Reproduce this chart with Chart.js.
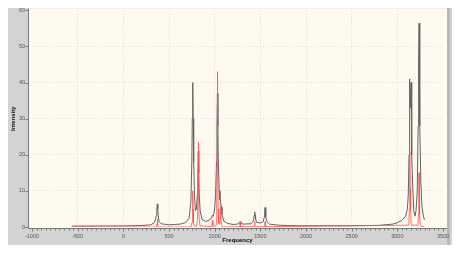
<!DOCTYPE html>
<html>
<head>
<meta charset="utf-8">
<script src="https://cdn.jsdelivr.net/npm/chart.js@4/dist/chart.umd.min.js"></script>
<style>
  html, body { margin: 0; padding: 0; background: #fff; }
  #c { display: block; }
</style>
</head>
<body>
<canvas id="c" width="463" height="256"></canvas>
<script>
// spectrum values (frequency / intensity pairs)
const blackFreq = [-565, 0, 200, 300, 340, 352, 362, 367, 372, 377, 382, 392, 412, 500, 620, 680, 720, 740, 750, 755, 760, 765, 770, 780, 790, 800, 811, 816, 821, 826, 831, 841, 861, 900, 950, 965, 970, 975, 980, 990, 1000, 1010, 1020, 1025, 1030, 1035, 1040, 1050, 1058, 1062, 1066, 1072, 1080, 1100, 1140, 1200, 1250, 1268, 1278, 1288, 1310, 1400, 1418, 1428, 1433, 1438, 1443, 1448, 1458, 1500, 1532, 1542, 1547, 1552, 1557, 1562, 1572, 1600, 1700, 1900, 2500, 2800, 2950, 3000, 3050, 3090, 3110, 3120, 3128, 3133, 3136, 3140, 3143, 3150, 3155, 3160, 3170, 3180, 3193, 3205, 3218, 3228, 3233, 3238, 3243, 3248, 3258, 3270, 3285, 3297];
const blackInt  = [0.25, 0.3, 0.4, 0.6, 1.2, 2, 3.2, 5, 6.4, 5, 3.2, 1.5, 0.9, 0.6, 0.8, 1.2, 2.4, 7, 18, 30, 40, 30, 18, 8, 4.5, 5, 9, 15, 21, 15, 9, 4.5, 2.2, 1.5, 2, 2.6, 3, 3.2, 3, 3.5, 5, 9, 18, 28, 37, 28, 18, 10, 7.5, 7.5, 7.5, 5.5, 3.5, 1.6, 1, 0.7, 0.8, 1.1, 1.4, 1.1, 0.8, 0.9, 1.4, 2.2, 3.3, 4.2, 3.3, 2.2, 1.3, 1.1, 1.5, 2.7, 4.2, 5.4, 4.2, 2.7, 1.5, 0.8, 0.5, 0.35, 0.35, 0.45, 0.8, 1.2, 1.8, 3, 5, 9, 20, 32, 41, 33, 35, 40, 32, 20, 10, 4.5, 3, 4.5, 10, 28, 45, 56.4, 45, 28, 12, 5.5, 3, 2];

const redFreq = [-565, 355, 365, 369, 372, 375, 379, 390, 740, 752, 757, 760, 763, 768, 780, 805, 813, 818, 821, 824, 829, 840, 965, 970, 975, 980, 985, 1015, 1022, 1027, 1030, 1033, 1038, 1045, 1058, 1063, 1066, 1069, 1074, 1085, 1270, 1275, 1278, 1281, 1286, 1430, 1435, 1438, 1441, 1446, 1544, 1549, 1552, 1555, 1560, 3125, 3132, 3135, 3138, 3141, 3144, 3152, 3225, 3232, 3235, 3238, 3241, 3244, 3252, 3297];
const redInt  = [0, 0, 0.3, 1, 2.2, 1, 0.3, 0, 0, 1.2, 5, 10, 5, 1.2, 0.2, 0.3, 2.8, 12, 23.5, 12, 2.8, 0.3, 0.1, 0.5, 1.8, 0.5, 0.1, 0.5, 5, 21, 43, 21, 5, 1, 0.8, 3, 6, 3, 0.8, 0, 0.1, 0.7, 1.5, 0.7, 0.1, 0.1, 0.7, 1.5, 0.7, 0.1, 0.1, 0.7, 1.5, 0.7, 0.1, 0.5, 5, 10.5, 21, 10.5, 5, 0.5, 0.5, 3.6, 7.5, 15, 7.5, 3.6, 0.4, 0];

const xMin = -1000, xMax = 3500, xStep = 50, xMajor = 500;
const yMin = 0, yMax = 60, yStep = 10;

const FONT = "'Liberation Sans', Arial, sans-serif";

// panneau gris + fond crème + axes dessinés à la main
const panelPlugin = {
  id: 'panel',
  beforeDraw(chart) {
    const { ctx, chartArea: a } = chart;
    ctx.save();
    ctx.fillStyle = '#fff';
    ctx.fillRect(0, 0, chart.width, chart.height);
    ctx.fillStyle = '#d3d3d3';
    ctx.fillRect(8, 8, 444, 237);
    ctx.fillStyle = '#fffaf0';
    ctx.fillRect(a.left - 4, a.top - 2, a.right - a.left + 8, a.bottom - a.top + 3);
    ctx.fillStyle = '#b8b8b8';
    ctx.fillRect(a.right + 4, 8, 3, 237);
    ctx.restore();
  },
  afterDraw(chart) {
    const { ctx, chartArea: a, scales: { x, y } } = chart;
    const axL = a.left - 3.5, axB = a.bottom + 1.5;
    ctx.save();
    ctx.strokeStyle = '#7a7a7a';
    ctx.lineWidth = 1;
    ctx.beginPath();
    ctx.moveTo(axL, a.top - 2); ctx.lineTo(axL, axB);
    ctx.lineTo(a.right + 4, axB);
    for (let v = yMin; v <= yMax; v += yStep) {
      const py = Math.round(y.getPixelForValue(v)) + 0.5;
      ctx.moveTo(axL - 3, py); ctx.lineTo(axL, py);
    }
    for (let v = xMin; v <= xMax; v += xStep) {
      const px = Math.round(x.getPixelForValue(v)) + 0.5;
      ctx.moveTo(px, axB); ctx.lineTo(px, axB + (v % xMajor === 0 ? 3 : 2));
    }
    ctx.stroke();
    ctx.restore();
  }
};

const toPts = (fs, is) => fs.map((f, i) => ({ x: f, y: is[i] }));

new Chart(document.getElementById('c'), {
  type: 'line',
  plugins: [panelPlugin],
  data: {
    datasets: [
      { label: 'red',   data: toPts(redFreq, redInt),     borderColor: 'rgba(255,80,80,0.8)', borderWidth: 1, pointRadius: 0, tension: 0 },
      { label: 'black', data: toPts(blackFreq, blackInt), borderColor: '#636363',             borderWidth: 1, pointRadius: 0, tension: 0 },
    ]
  },
  options: {
    responsive: false,
    animation: false,
    events: [],
    layout: { padding: { left: 8, top: 10, right: 20, bottom: 11 } },
    plugins: { legend: { display: false }, tooltip: { enabled: false } },
    scales: {
      x: {
        type: 'linear', min: xMin, max: xMax,
        afterFit(s) { s.height = 18; },
        border: { display: false, dash: [1, 2] },
        grid: {
          drawTicks: false,
          color: c => (c.tick && c.tick.value % xMajor === 0 && c.tick.value !== xMin && c.tick.value !== xMax) ? '#dedad2' : 'transparent'
        },
        ticks: {
          stepSize: xStep, autoSkip: false, maxRotation: 0, padding: 6,
          color: '#555', font: { family: FONT, size: 5.5 },
          callback: v => (v % xMajor === 0 ? String(v) : '')
        },
        title: { display: true, text: 'Frequency', color: '#111', font: { family: FONT, size: 6, weight: 'bold' }, padding: { top: 0, bottom: 1 } }
      },
      y: {
        min: yMin, max: yMax,
        afterFit(s) { s.width = 24; },
        border: { display: false, dash: [1, 2] },
        grid: {
          drawTicks: false,
          color: c => (c.tick && c.tick.value > yMin && c.tick.value < yMax) ? '#dedad2' : 'transparent'
        },
        ticks: { stepSize: yStep, padding: 7, color: '#555', font: { family: FONT, size: 5.5 } },
        title: { display: true, text: 'Intensity', color: '#111', font: { family: FONT, size: 6, weight: 'bold' }, padding: { top: 2, bottom: 0 } }
      }
    }
  }
});
</script>
</body>
</html>
